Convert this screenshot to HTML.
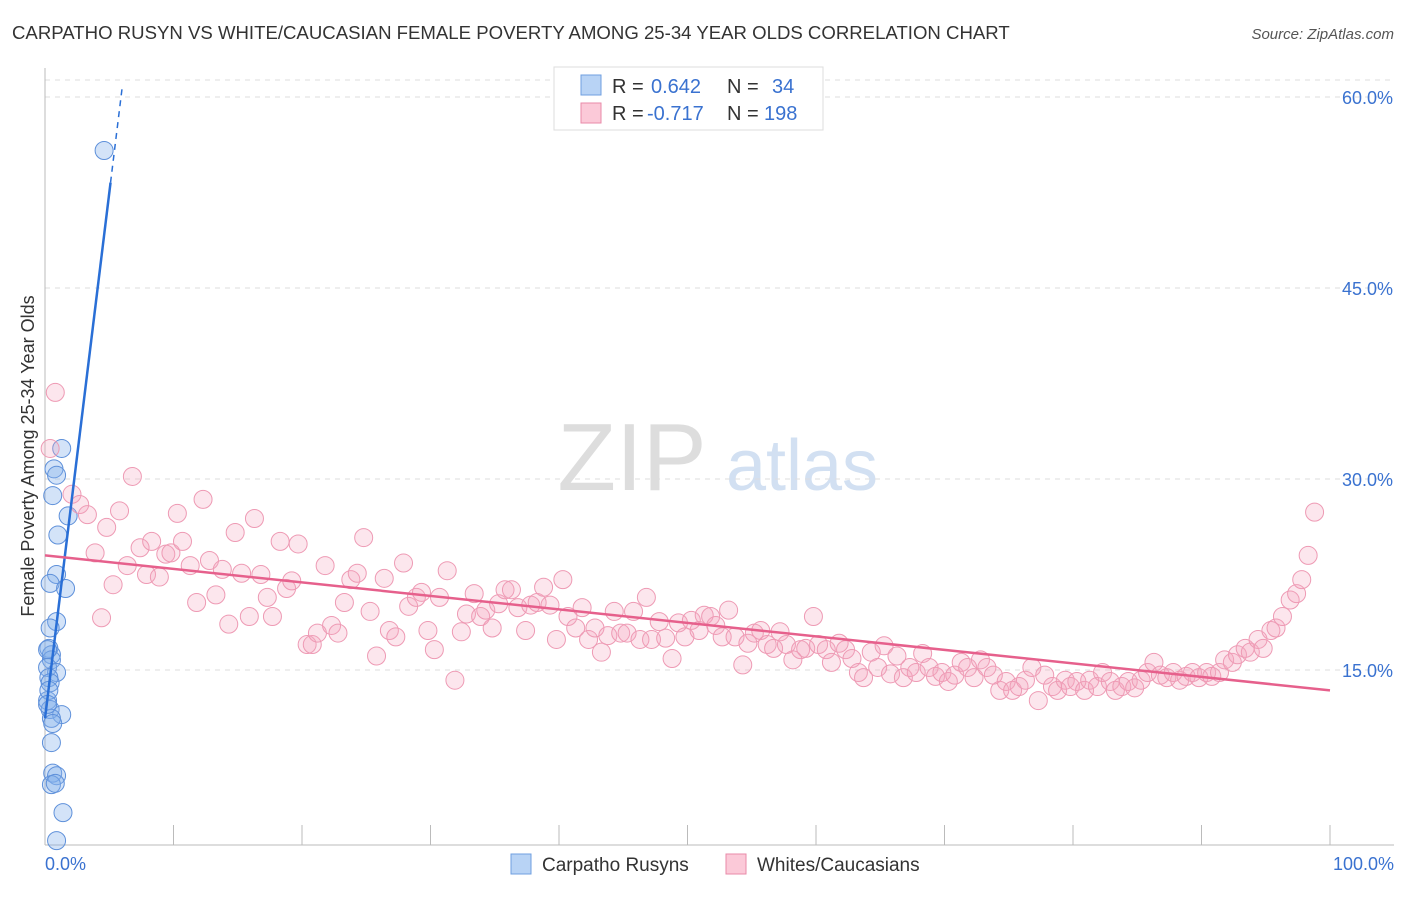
<!DOCTYPE html>
<html><head><meta charset="utf-8"><style>
body{margin:0;background:#fff;font-family:"Liberation Sans",sans-serif}
svg text{font-family:"Liberation Sans",sans-serif}
</style></head><body>
<svg id="c" width="1406" height="892" viewBox="0 0 1406 892" xmlns="http://www.w3.org/2000/svg">
<text x="12" y="39" font-size="18.6" fill="#333">CARPATHO RUSYN VS WHITE/CAUCASIAN FEMALE POVERTY AMONG 25-34 YEAR OLDS CORRELATION CHART</text>
<text x="1394" y="39" font-size="15" fill="#555" font-style="italic" text-anchor="end">Source: ZipAtlas.com</text>
<g>
<text x="632" y="490" font-size="96" fill="#ddd" font-family="Liberation Serif" text-anchor="middle">ZIP</text>
<text x="802" y="490" font-size="72" fill="#d2e0f2" text-anchor="middle">atlas</text>
</g>
<g id="grid"></g><g id="axes"></g><g id="blue"></g><g id="pink"></g><g id="trends"></g>
<text transform="translate(34,456) rotate(-90)" font-size="18" fill="#333" text-anchor="middle">Female Poverty Among 25-34 Year Olds</text>
<g>
<rect x="554" y="67" width="269" height="63" fill="#fff" stroke="#ddd"/>
<rect x="581" y="75" width="20" height="20" fill="#b8d3f5" stroke="#6f9fe0"/>
<rect x="581" y="103" width="20" height="20" fill="#fbc9d8" stroke="#e88aa8"/>
<text x="612" y="93" font-size="20" fill="#333">R =</text>
<text x="651" y="93" font-size="20" fill="#3a72d0">0.642</text>
<text x="727" y="93" font-size="20" fill="#333">N =</text>
<text x="772" y="93" font-size="20" fill="#3a72d0">34</text>
<text x="612" y="120" font-size="20" fill="#333">R =</text>
<text x="647" y="120" font-size="20" fill="#3a72d0">-0.717</text>
<text x="727" y="120" font-size="20" fill="#333">N =</text>
<text x="764" y="120" font-size="20" fill="#3a72d0">198</text>
</g>
<g>
<rect x="511" y="854" width="20" height="20" fill="#b8d3f5" stroke="#6f9fe0"/>
<text x="542" y="871" font-size="19" fill="#333">Carpatho Rusyns</text>
<rect x="726" y="854" width="20" height="20" fill="#fbc9d8" stroke="#e88aa8"/>
<text x="757" y="871" font-size="19" fill="#333">Whites/Caucasians</text>
</g>
</svg>
<script>
const yTicks=[15,30,45,60];
const yTickLabels=["15.0%","30.0%","45.0%","60.0%"];
const xTickLabels=["0.0%","100.0%"];
const blueX=[4.6,1.3,0.7,0.9,0.6,1.8,1.0,0.9,0.4,1.6,0.9,0.4,0.3,0.5,0.5,0.2,0.9,0.3,0.4,0.2,0.4,1.3,0.5,0.6,0.5,0.6,0.9,0.5,0.8,1.4,0.9,0.2,0.3,0.2];
const blueY=[55.8,32.4,30.8,30.3,28.7,27.1,25.6,22.5,21.8,21.4,18.8,18.3,16.7,16.2,15.8,15.2,14.8,14.4,14.0,12.6,11.9,11.5,11.2,10.8,9.3,6.9,6.7,6.0,6.1,3.8,1.6,16.6,13.4,12.3];
const pinkX=[0.8,0.4,2.1,2.7,3.3,3.9,4.4,4.8,5.3,5.8,6.4,6.8,7.4,7.9,8.3,8.9,9.4,9.8,10.3,10.7,11.3,11.8,12.3,12.8,13.3,13.8,14.3,14.8,15.3,15.9,16.3,16.8,17.3,17.7,18.3,18.8,19.2,19.7,20.4,20.8,21.2,21.8,22.3,22.8,23.3,23.8,24.3,24.8,25.3,25.8,26.4,26.8,27.3,27.9,28.3,28.9,29.3,29.8,30.3,30.7,31.3,31.9,32.4,32.8,33.4,33.9,34.3,34.8,35.3,35.8,36.3,36.8,37.4,37.8,38.3,38.8,39.3,39.8,40.3,40.7,41.3,41.8,42.3,42.8,43.3,43.8,44.3,44.8,45.3,45.8,46.3,46.8,47.2,47.8,48.3,48.8,49.3,49.8,50.3,50.9,51.3,51.8,52.2,52.7,53.2,53.7,54.3,54.7,55.2,55.7,56.2,56.7,57.2,57.7,58.2,58.8,59.2,59.8,60.2,60.8,61.2,61.8,62.3,62.8,63.3,63.7,64.3,64.8,65.3,65.8,66.3,66.8,67.3,67.8,68.3,68.8,69.3,69.8,70.3,70.8,71.3,71.8,72.3,72.8,73.3,73.8,74.3,74.8,75.3,75.8,76.3,76.8,77.3,77.8,78.4,78.8,79.4,79.8,80.3,80.9,81.3,81.9,82.3,82.9,83.3,83.8,84.3,84.8,85.3,85.8,86.3,86.8,87.3,87.8,88.3,88.8,89.3,89.8,90.4,90.8,91.4,91.8,92.4,92.8,93.4,93.8,94.4,94.8,95.4,95.8,96.3,96.9,97.4,97.8,98.3,98.8];
const pinkY=[36.8,32.4,28.8,28.0,27.2,24.2,19.1,26.2,21.7,27.5,23.2,30.2,24.6,22.5,25.1,22.3,24.1,24.2,27.3,25.1,23.2,20.3,28.4,23.6,20.9,22.9,18.6,25.8,22.6,19.2,26.9,22.5,20.7,19.2,25.1,21.4,22.0,24.9,17.0,17.0,17.9,23.2,18.5,17.9,20.3,22.1,22.6,25.4,19.6,16.1,22.2,18.1,17.6,23.4,20.0,20.7,21.1,18.1,16.6,20.7,22.8,14.2,18.0,19.4,21.0,19.2,19.7,18.3,20.2,21.3,21.3,19.9,18.1,20.1,20.3,21.5,20.1,17.4,22.1,19.2,18.3,19.9,17.4,18.3,16.4,17.7,19.6,17.9,17.9,19.6,17.4,20.7,17.4,18.8,17.5,15.9,18.7,17.6,18.9,18.1,19.3,19.2,18.5,17.6,19.7,17.6,15.4,17.1,17.9,18.1,17.0,16.7,18.0,17.0,15.8,16.6,16.7,19.2,17.0,16.6,15.6,17.1,16.6,15.9,14.8,14.4,16.4,15.2,16.9,14.7,16.1,14.4,15.2,14.8,16.3,15.2,14.5,14.8,14.1,14.6,15.6,15.2,14.4,15.8,15.2,14.6,13.4,14.1,13.4,13.7,14.2,15.2,12.6,14.6,13.7,13.4,14.2,13.7,14.1,13.4,14.2,13.7,14.8,14.1,13.4,13.7,14.1,13.6,14.2,14.8,15.6,14.6,14.4,14.8,14.2,14.5,14.8,14.4,14.8,14.5,14.8,15.8,15.6,16.2,16.7,16.4,17.4,16.7,18.1,18.3,19.2,20.5,21.0,22.1,24.0,27.4];
const blueTrend={x0:0,y0:11.2,slope:8.25,solidEnd:5.1,dashEnd:6.0};
const pinkTrend={x0:0,y0:24.0,x1:100,y1:13.4};
const NS="http://www.w3.org/2000/svg";
const X=v=>45+v*12.85, Y=v=>861-v*12.733;
function mk(t,a,p){const e=document.createElementNS(NS,t);for(const k in a)e.setAttribute(k,a[k]);p.appendChild(e);return e;}
const grid=document.getElementById('grid'),axes=document.getElementById('axes');
mk('line',{x1:45,x2:1394,y1:80,y2:80,stroke:'#ddd','stroke-dasharray':'5,5'},grid);
yTicks.forEach((t,i)=>{
 const l=mk('line',{x1:45,x2:1394,y1:Y(t),y2:Y(t),stroke:'#ddd','stroke-dasharray':'5,5'},grid);
 
 
 const tx=mk('text',{x:1393,y:Y(t)+7,'font-size':18,fill:'#3a72d0','text-anchor':'end'},axes);
 tx.textContent=yTickLabels[i];
 
 
});
const xa=mk('line',{x1:45,x2:1394,y1:845,y2:845,stroke:'#bbb'},axes);


const ya=mk('line',{x1:45,x2:45,y1:68,y2:845,stroke:'#bbb'},axes);


for(let i=1;i<=10;i++){const t=mk('line',{x1:X(i*10),x2:X(i*10),y1:825,y2:845,stroke:'#bbb'},axes);
 
 }
[[0,'start',45],[100,'end',1394]].forEach((d,i)=>{const t=mk('text',{x:d[2],y:870,'font-size':18,fill:'#3a72d0','text-anchor':d[1]},axes);t.textContent=xTickLabels[i];
 
 });
const bg=document.getElementById('blue');
blueX.forEach((v,i)=>{const c=mk('circle',{cx:X(v),cy:Y(blueY[i]),r:9,fill:'rgba(130,175,235,0.35)',stroke:'#5e90da','stroke-width':1},bg);
 
 });
const pg=document.getElementById('pink');
pinkX.forEach((v,i)=>{const c=mk('circle',{cx:X(v),cy:Y(pinkY[i]),r:9,fill:'rgba(245,165,190,0.28)',stroke:'#ee9ab4','stroke-width':1},pg);
 
 });
const tg=document.getElementById('trends');
const bt=blueTrend;
const b1=mk('line',{x1:X(bt.x0),y1:Y(bt.y0),x2:X(bt.solidEnd),y2:Y(bt.y0+bt.slope*bt.solidEnd),stroke:'#2a6fd6','stroke-width':2.5},tg);


const b2=mk('line',{x1:X(bt.solidEnd),y1:Y(bt.y0+bt.slope*bt.solidEnd),x2:X(bt.dashEnd),y2:Y(bt.y0+bt.slope*bt.dashEnd),stroke:'#2a6fd6','stroke-width':1.5,'stroke-dasharray':'6,5'},tg);


const pt=pinkTrend;
const p1=mk('line',{x1:X(pt.x0),y1:Y(pt.y0),x2:X(pt.x1),y2:Y(pt.y1),stroke:'#e6608c','stroke-width':2.5},tg);


</script>
</body></html>
